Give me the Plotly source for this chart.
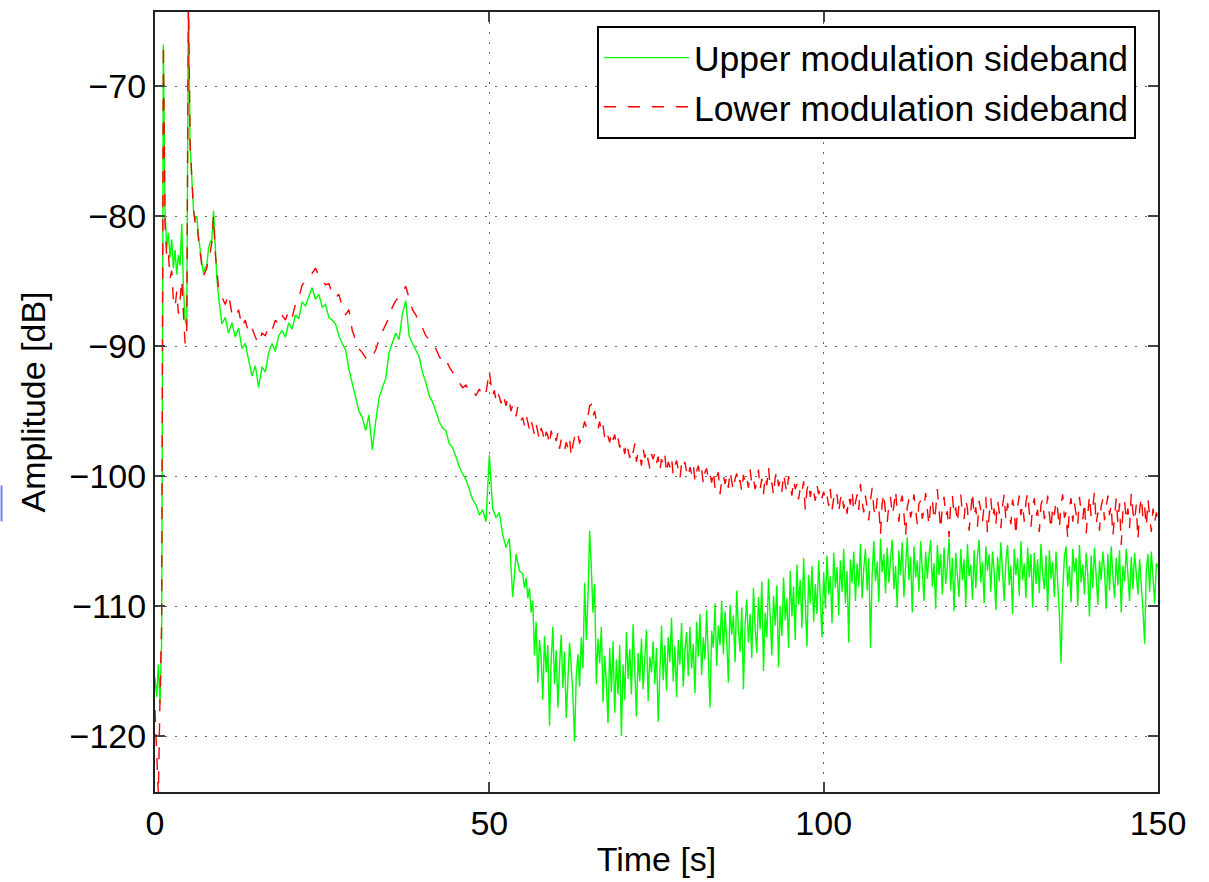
import numpy as np
import plotly.graph_objects as go

# ---- data ----
# early part: t = 0 .. 9.75 s, step 0.25 s
upper_early = [
    -115.5, -117.0, -114.5, -117.5, -112.5, -66.8, -79.5, -82.5, -81.3, -83.2,
    -81.8, -84.0, -82.6, -84.5, -83.0, -83.8, -80.6, -85.5, -88.0, -88.5,
    -63.0, -74.5, -77.0, -79.5, -80.3, -80.0, -81.5, -82.8, -83.6, -84.4,
    -84.0, -83.8, -82.5, -82.0, -81.8, -79.6, -82.5, -84.8, -86.2, -87.3,
]
lower_early = [
    -118.0, -121.5, -124.5, -117.0, -111.0, -66.8, -80.5, -83.2, -82.8, -84.8,
    -84.2, -86.5, -87.0, -85.8, -87.5, -86.5, -84.9, -87.5, -89.8, -89.0,
    -63.0, -74.5, -77.3, -79.5, -80.5, -80.3, -81.8, -83.0, -83.8, -84.6,
    -84.3, -84.0, -83.0, -82.8, -82.0, -80.0, -82.8, -84.5, -85.5, -86.0,
]

# middle part: step 0.5 s (one line = 5 s)
upper_mid = [  # t = 10 .. 54.5
    -88.3, -87.8, -89.0, -88.2, -89.3, -88.6, -90.2, -89.8, -91.2, -92.3,   # 10
    -91.5, -93.2, -91.6, -92.0, -90.5, -89.8, -90.4, -89.2, -88.8, -89.3,   # 15
    -88.2, -88.7, -87.6, -87.9, -86.6, -86.9, -86.2, -85.5, -86.4, -86.0,   # 20
    -87.0, -86.8, -87.8, -88.0, -88.3, -89.2, -89.8, -90.3, -91.8, -92.8,   # 25
    -93.8, -95.0, -95.5, -96.5, -95.3, -98.0, -95.8, -94.0, -93.2, -92.5,   # 30
    -90.5, -89.8, -89.0, -89.5, -87.5, -86.5, -89.2, -89.8, -90.3, -90.8,   # 35
    -92.0, -92.8, -93.8, -94.3, -95.0, -95.8, -96.3, -96.5, -97.5, -97.8,   # 40
    -98.5, -99.3, -99.8, -100.3, -101.0, -101.8, -102.2, -103.0, -102.6, -103.5,  # 45
    -98.4, -102.5, -103.2, -102.8, -104.5, -105.5, -104.8, -109.3, -106.0, -107.3,  # 50
]
lower_mid = [  # t = 10 .. 49.5
    -86.2, -86.8, -86.0, -87.5, -87.8, -87.2, -88.5, -88.0, -89.0, -88.6,   # 10
    -89.3, -89.8, -89.0, -89.2, -88.5, -88.8, -88.0, -88.3, -87.6, -88.0,   # 15
    -87.3, -87.8, -86.8, -86.3, -85.3, -85.0, -84.7, -84.4, -84.0, -84.6,   # 20
    -84.9, -85.3, -85.2, -85.9, -86.3, -86.0, -87.0, -87.6, -87.2, -88.8,   # 25
    -89.5, -90.2, -90.5, -90.9, -90.6, -90.8, -90.3, -89.5, -88.9, -88.3,   # 30
    -87.8, -87.0, -86.5, -86.2, -85.9, -85.4, -86.3, -87.2, -87.6, -88.2,   # 35
    -88.6, -89.2, -89.5, -89.8, -90.2, -90.8, -91.2, -91.0, -91.6, -92.0,   # 40
    -92.4, -92.8, -93.2, -93.0, -93.5, -93.4, -93.8, -93.3, -93.9, -93.6,   # 45
]

# late part: step 0.25 s (one line = 5 s)
upper_late = [  # t = 55 .. 150
    -107.5, -108.6, -107.8, -109.4, -108.6, -110.5, -109.6, -113.8, -111.2, -115.9,
    -112.6, -114.0, -117.2, -112.3, -115.1, -113.0, -119.2, -114.2, -111.6, -116.0,   # 55
    -113.4, -117.8, -114.6, -112.2, -116.3, -113.5, -118.6, -115.2, -112.8, -114.7,
    -116.9, -120.4, -115.3, -113.7, -116.2, -112.4, -114.8, -108.2, -112.6, -109.4,   # 60
    -104.2, -107.0, -110.5, -108.3, -116.0, -112.5, -114.4, -111.6, -117.4, -113.8,
    -115.9, -119.0, -113.2, -116.6, -112.7, -118.2, -114.1, -116.8, -113.0, -120.0,   # 65
    -114.5, -117.2, -112.0, -115.6, -113.3, -116.8, -111.4, -114.9, -118.5, -113.6,
    -115.8, -112.5, -116.4, -114.0, -111.8, -117.3, -113.9, -115.1, -112.7, -116.0,   # 70
    -113.2, -118.9, -114.6, -111.5, -115.7, -113.0, -116.5, -112.4, -114.3, -110.9,
    -115.8, -113.1, -117.0, -112.6, -114.5, -111.3, -116.2, -113.4, -112.0, -115.4,   # 75
    -111.6, -114.8, -112.9, -116.7, -111.2, -113.9, -110.6, -115.3, -112.4, -114.1,
    -110.3, -113.5, -117.8, -111.9, -113.2, -109.8, -114.6, -111.5, -113.0, -109.6,   # 80
    -113.7, -110.4, -112.6, -115.9, -109.9, -112.2, -110.7, -114.3, -108.8, -111.9,
    -113.5, -110.1, -116.4, -111.4, -109.5, -112.8, -110.6, -114.0, -108.6, -111.7,   # 85
    -113.6, -109.3, -111.8, -108.1, -115.0, -110.5, -112.4, -107.9, -110.9, -113.8,
    -109.2, -111.5, -108.4, -114.7, -110.0, -112.3, -107.8, -111.1, -109.4, -113.2,   # 90
    -107.3, -110.8, -108.5, -112.6, -106.8, -109.9, -108.0, -111.7, -106.3, -110.4,
    -113.1, -107.6, -109.8, -106.9, -111.2, -108.3, -110.6, -106.5, -109.5, -112.4,   # 95
    -107.4, -110.2, -106.1, -109.1, -107.7, -111.3, -105.9, -108.6, -107.0, -110.7,
    -106.5, -108.9, -105.6, -109.8, -107.3, -112.8, -106.4, -108.2, -105.8, -109.6,   # 100
    -106.7, -108.5, -105.2, -109.4, -107.1, -105.6, -108.8, -106.3, -113.2, -107.5,
    -105.0, -108.1, -106.6, -109.7, -104.8, -107.4, -106.0, -109.0, -105.5, -108.2,   # 105
    -106.4, -104.9, -108.7, -106.9, -110.1, -105.7, -107.6, -105.1, -109.3, -106.8,
    -104.7, -108.0, -106.2, -110.5, -105.4, -107.8, -106.5, -108.9, -105.0, -107.2,   # 110
    -109.6, -105.8, -107.9, -106.1, -104.9, -108.5, -106.7, -110.2, -105.3, -107.6,
    -106.0, -109.1, -105.5, -108.3, -106.9, -104.8, -108.8, -106.3, -110.4, -105.9,   # 115
    -107.5, -109.3, -105.6, -108.0, -106.4, -110.0, -105.2, -107.7, -106.8, -109.5,
    -105.7, -108.6, -106.1, -104.9, -108.2, -106.6, -109.8, -105.4, -107.3, -106.0,   # 120
    -108.9, -105.8, -107.4, -110.3, -106.2, -108.1, -105.1, -107.9, -109.6, -106.5,
    -105.3, -108.4, -106.9, -110.6, -105.6, -107.6, -106.3, -109.2, -105.0, -108.0,   # 125
    -106.7, -109.4, -105.5, -107.8, -106.0, -110.1, -105.9, -108.3, -106.4, -109.0,
    -105.2, -107.5, -108.7, -106.1, -110.4, -105.7, -107.9, -106.6, -109.3, -105.8,   # 130
    -108.0, -110.6, -114.4, -108.9, -106.2, -105.4, -108.5, -106.9, -109.7, -105.6,
    -107.4, -106.3, -110.0, -105.3, -108.2, -106.8, -109.1, -105.9, -107.6, -110.8,   # 135
    -106.1, -108.6, -105.5, -107.9, -109.9, -106.5, -108.0, -105.8, -107.3, -110.2,
    -106.0, -108.8, -105.4, -107.7, -109.4, -106.3, -108.4, -105.7, -110.5, -106.9,   # 140
    -108.1, -105.6, -107.5, -109.6, -106.2, -108.7, -105.9, -107.4, -109.1, -106.4,
    -108.0, -110.3, -112.9, -107.2, -106.0, -108.9, -105.8, -107.6, -109.8, -106.7,   # 145
    -107.0,                                                                            # 150
]
lower_late = [  # t = 50 .. 150
    -91.9, -93.0, -93.8, -93.4, -94.2, -93.6, -93.9, -94.4, -93.7, -94.1,
    -94.6, -93.9, -94.3, -95.0, -94.5, -94.8, -95.4, -94.7, -95.2, -95.7,   # 50
    -95.5, -96.1, -95.3, -95.9, -96.4, -95.7, -96.2, -96.8, -96.0, -96.5,
    -97.2, -96.3, -96.7, -97.4, -96.6, -96.9, -97.6, -96.5, -97.1, -96.8,   # 55
    -97.3, -96.7, -97.9, -97.2, -97.6, -98.0, -97.4, -97.8, -97.1, -98.5,
    -97.6, -97.0, -97.3, -96.8, -97.5, -96.9, -96.3, -95.8, -96.2, -95.2,   # 60
    -94.6, -94.5, -95.4, -95.0, -95.9, -96.4, -95.8, -96.6, -96.1, -97.0,
    -96.5, -96.9, -97.4, -96.6, -97.2, -96.8, -97.6, -97.1, -97.8, -97.3,   # 65
    -97.6, -98.3, -97.4, -98.0, -98.6, -97.8, -98.2, -97.5, -98.9, -98.1,
    -98.4, -99.2, -97.9, -98.6, -98.0, -98.8, -99.4, -98.3, -98.7, -98.2,   # 70
    -99.0, -98.5, -99.6, -98.7, -99.1, -98.4, -99.8, -98.9, -99.3, -98.6,
    -99.9, -99.2, -98.8, -99.5, -100.2, -99.0, -99.4, -98.9, -99.7, -100.1,  # 75
    -99.3, -99.8, -99.1, -100.4, -99.6, -99.2, -100.0, -99.5, -100.6, -99.7,
    -99.4, -100.2, -99.8, -100.5, -99.6, -100.9, -100.1, -99.7, -101.4, -100.3,  # 80
    -99.9, -100.6, -100.0, -100.9, -99.6, -100.4, -101.1, -100.2, -99.8, -100.7,
    -100.3, -101.2, -99.9, -100.5, -100.1, -100.9, -99.5, -100.6, -100.2, -101.0,  # 85
    -100.4, -99.5, -101.0, -100.2, -101.4, -100.0, -100.7, -99.3, -100.9, -100.5,
    -101.5, -100.1, -99.6, -100.8, -100.3, -101.2, -99.8, -100.6, -101.3, -100.0,  # 90
    -100.7, -101.5, -100.3, -101.0, -100.6, -101.8, -100.9, -101.3, -100.4, -102.6,
    -101.1, -100.5, -101.6, -100.8, -101.2, -101.9, -100.7, -101.4, -100.9, -101.7,  # 95
    -101.2, -101.9, -101.5, -102.3, -101.0, -102.6, -101.7, -102.1, -101.4, -102.8,
    -101.8, -101.3, -102.5, -101.9, -102.9, -101.6, -102.2, -101.1, -102.7, -102.0,  # 100
    -101.4, -102.6, -100.6, -102.0, -102.8, -101.5, -102.3, -103.4, -101.9, -100.9,
    -102.5, -103.1, -101.7, -102.4, -104.5, -102.1, -101.3, -102.9, -103.6, -102.2,  # 105
    -101.6, -103.0, -102.3, -101.1, -102.7, -103.5, -102.0, -101.5, -102.9, -104.6,
    -102.4, -101.8, -103.2, -102.6, -101.4, -102.8, -103.7, -102.1, -101.9, -103.3,  # 110
    -102.5, -101.3, -102.9, -103.8, -102.2, -101.7, -103.4, -102.6, -101.0, -102.8,
    -104.1, -102.3, -101.6, -103.1, -102.7, -104.7, -102.0, -101.5, -103.0, -102.4,  # 115
    -103.6, -102.1, -101.4, -102.9, -103.3, -101.8, -102.5, -104.2, -102.7, -101.2,
    -103.1, -102.4, -103.9, -101.9, -102.6, -103.5, -102.2, -101.6, -104.4, -102.8,  # 120
    -101.7, -103.2, -102.5, -103.8, -101.9, -102.7, -104.0, -102.3, -101.4, -103.4,
    -102.1, -102.9, -103.7, -101.8, -102.6, -104.6, -102.4, -101.5, -103.0, -102.2,  # 125
    -103.5, -102.0, -101.3, -102.8, -103.9, -102.4, -101.7, -103.1, -102.6, -104.3,
    -102.2, -101.8, -103.3, -102.7, -101.5, -102.9, -104.1, -102.3, -103.0, -101.9,  # 130
    -102.6, -104.0, -102.2, -101.4, -103.2, -102.8, -104.8, -102.5, -101.7, -103.5,
    -102.1, -102.9, -103.8, -101.6, -102.7, -103.3, -102.0, -104.4, -102.6, -101.5,  # 135
    -103.1, -102.4, -101.2, -103.7, -102.8, -104.2, -102.3, -101.8, -103.4, -102.6,
    -101.5, -103.0, -102.2, -104.6, -102.9, -101.7, -103.6, -102.1, -105.3, -102.7,  # 140
    -101.9, -103.4, -102.5, -104.0, -101.3, -102.8, -103.5, -102.2, -104.9, -102.6,
    -101.6, -103.2, -102.4, -103.9, -101.8, -102.9, -104.3, -102.5, -103.6, -102.8,  # 145
    -103.4,                                                                          # 150
]
x_ticks = [0, 50, 100, 150]
y_ticks = [-120, -110, -100, -90, -80, -70]

# time bases of the sampled segments
t_upper = np.concatenate([0.25 * np.arange(len(upper_early)),
                          10 + 0.5 * np.arange(len(upper_mid)),
                          55 + 0.25 * np.arange(len(upper_late))])
t_lower = np.concatenate([0.25 * np.arange(len(lower_early)),
                          10 + 0.5 * np.arange(len(lower_mid)),
                          50 + 0.25 * np.arange(len(lower_late))])
upper = upper_early + upper_mid + upper_late
lower = lower_early + lower_mid + lower_late

FONT = "Liberation Sans, Arial, Helvetica, sans-serif"

fig = go.Figure()
fig.add_trace(go.Scatter(x=t_upper, y=upper, mode="lines",
                         name="Upper modulation sideband",
                         line=dict(color="#00ff00", width=1.4)))
fig.add_trace(go.Scatter(x=t_lower, y=lower, mode="lines",
                         name="Lower modulation sideband",
                         line=dict(color="#ff0000", width=1.4, dash="12px,12px")))

axis_common = dict(
    showline=True, linecolor="#222222", linewidth=2, mirror="ticks",
    ticks="inside", ticklen=10, tickwidth=2, tickcolor="#444444",
    showgrid=True, gridcolor="#666666", gridwidth=1, griddash="2px,8px",
    zeroline=False,
    tickfont=dict(family=FONT, size=34, color="black"),
    title_font=dict(family=FONT, size=34, color="black"),
)

fig.update_xaxes(range=[0, 150], tickvals=x_ticks, title_text="Time [s]",
                 title_standoff=6, **axis_common)
fig.update_yaxes(range=[-124.3, -64.3], tickvals=y_ticks,
                 title_text="Amplitude [dB]", title_standoff=14, **axis_common)

fig.update_layout(
    width=1209, height=882,
    margin=dict(l=155, r=51, t=10, b=86),
    paper_bgcolor="white", plot_bgcolor="white",
    font=dict(family=FONT, size=34, color="black"),
    showlegend=True,
    legend=dict(x=0.978, xanchor="right", y=0.982, yanchor="top",
                bgcolor="white", bordercolor="black", borderwidth=2,
                font=dict(family=FONT, size=35.5, color="black"),
                itemwidth=85, tracegroupgap=0),
    shapes=[dict(type="line", xref="paper", yref="paper",
                 x0=-0.1530, x1=-0.1530, y0=0.347, y1=0.393,
                 line=dict(color="#7b7bff", width=2))],
)

fig.write_html("out.html")
